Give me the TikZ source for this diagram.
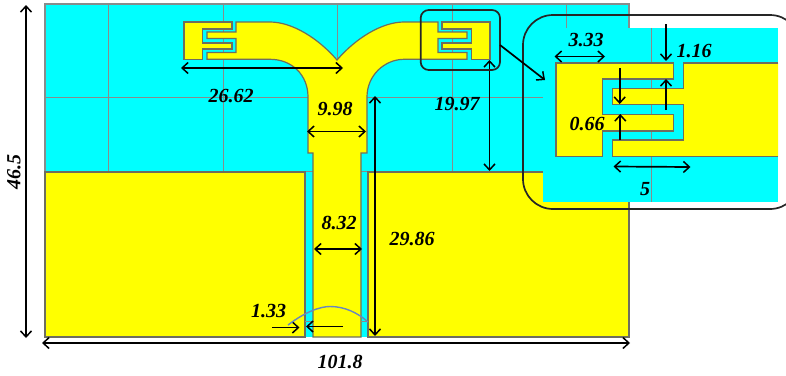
\documentclass[tikz,border=0pt]{standalone}
\usepackage{fontspec}
\setmainfont{Liberation Serif}
\usetikzlibrary{arrows.meta}
\definecolor{boardcyan}{RGB}{0,255,255}
\definecolor{metal}{RGB}{255,255,0}
\definecolor{edgegray}{RGB}{110,110,95}
\definecolor{gridgray}{RGB}{135,140,140}
\definecolor{arcblue}{RGB}{105,135,190}
\tikzset{
  cu/.style={fill=metal,draw=edgegray,line width=1.2pt,line join=miter},
  gridline/.style={draw=gridgray,line width=1pt},
  dimline/.style={draw=black,line width=1.7pt,arrows={Straight Barb[length=6pt,width=11pt,line width=1.5pt]-Straight Barb[length=6pt,width=11pt,line width=1.5pt]}},
  oneway/.style={draw=black,line width=1.7pt,-{Straight Barb[length=6pt,width=11pt,line width=1.5pt]}},
  frame/.style={draw=black!85,line width=1.7pt},
  lbl/.style={font=\bfseries\itshape\fontsize{20}{20}\selectfont,inner sep=0pt}
}
\begin{document}
\begin{tikzpicture}[x=1pt,y=-1pt]
\useasboundingbox (0,0) rectangle (786,375);
\clip (0,0) rectangle (786,375);
% board
\fill[boardcyan] (45,4) rectangle (629,172);
\foreach \gx in {108,223,337,452,566}{\draw[gridline] (\gx,4) -- (\gx,172);}
\draw[gridline] (45,97) -- (629,97);
\draw[draw=gridgray,line width=1.2pt] (45,4) rectangle (629,172);
% ground planes and slots
\fill[boardcyan] (305,172) rectangle (368,337);
\draw[cu] (45,172) -- (305,172) -- (305,337) -- (45,337) -- cycle;
\draw[cu] (368,172) -- (629,172) -- (629,337) -- (368,337) -- cycle;
% feed
\draw[cu] (236,22) -- (270,22) .. controls (292,22) and (318,38) .. (337,60)
  .. controls (356,38) and (382,22) .. (404,22) -- (438,22) -- (438,32) -- (467,32) -- (467,38.5) -- (438,38.5) -- (438,52.4) -- (467,52.4) -- (467,59.3)
  -- (404,59.3) .. controls (385,59.3) and (367,75) .. (367,97) -- (367,153) -- (361,153) -- (361,337) -- (313,337) -- (313,153) -- (308,153) -- (308,97)
  .. controls (308,75) and (292,59.3) .. (270,59.3) -- (207,59.3) -- (207,52.4) -- (236,52.4) -- (236,38.5) -- (207,38.5) -- (207,32) -- (236,32) -- cycle;
% resonator end blocks
\draw[cu] (184,22) -- (232,22) -- (232,29) -- (202.7,29) -- (202.7,43) -- (232,43) -- (232,49) -- (202.7,49) -- (202.7,59.3) -- (184,59.3) -- cycle;
\draw[cu] (490,22) -- (442,22) -- (442,29) -- (471.3,29) -- (471.3,43) -- (442,43) -- (442,49) -- (471.3,49) -- (471.3,59.3) -- (490,59.3) -- cycle;
% small grid ticks in slots
\draw[draw=gridgray,line width=1pt] (305,321) -- (313,321);
\draw[draw=gridgray,line width=1pt] (361,321) -- (368,321);
% main dimensions
\coordinate (wA) at (181,68); \coordinate (wB) at (343,68);
\draw[dimline] (wA) -- (wB);
\node[lbl] (l2662) at (231,96) {26.62};
\coordinate (hA) at (489.5,60); \coordinate (hB) at (489.5,171);
\draw[dimline] (hA) -- (hB);
\node[lbl] (l1997) at (457,104) {19.97};
\coordinate (sA) at (307,131.5); \coordinate (sB) at (366,131.5);
\draw[dimline] (sA) -- (sB);
\node[lbl] (l998) at (335,109) {9.98};
\coordinate (fA) at (375,96); \coordinate (fB) at (375,336);
\draw[dimline] (fA) -- (fB);
\node[lbl] (l2986) at (412,239) {29.86};
\coordinate (nA) at (314,249); \coordinate (nB) at (362,249);
\draw[dimline] (nA) -- (nB);
\node[lbl] (l832) at (339,223) {8.32};
\coordinate (gA) at (272,327.5); \coordinate (gB) at (299.5,327.5);
\draw[oneway] (gA) -- (gB);
\coordinate (gC) at (343,326.5); \coordinate (gD) at (306,326.5);
\draw[oneway] (gC) -- (gD);
\node[lbl] (l133) at (268.5,311) {1.33};
\coordinate (aA) at (288,325); \coordinate (aB) at (368,322);
\draw[draw=arcblue,line width=1.4pt] (aA) .. controls (305,312) and (320,306.5) .. (330,306.5) .. controls (345,306.5) and (358,313) .. (aB);
\coordinate (bA) at (42,343); \coordinate (bB) at (630,343);
\draw[dimline] (bA) -- (bB);
\node[lbl] (l1018) at (340,362) {101.8};
\coordinate (vA) at (26,5); \coordinate (vB) at (26,338);
\draw[dimline] (vA) -- (vB);
\node[lbl,rotate=90] (l465) at (14,172) {46.5};
% inset
\fill[boardcyan] (543,28) rectangle (778,202);
\draw[gridline] (651,28) -- (651,202);
\fill[metal] (684,63) rectangle (778,156.7);
\draw[cu] (556,63) -- (673.3,63) -- (673.3,79) -- (602.7,79) -- (602.7,114.3) -- (673.3,114.3) -- (673.3,131) -- (602.7,131) -- (602.7,156.7) -- (556,156.7) -- cycle;
\draw[cu] (778,63) -- (683.3,63) -- (683.3,88.3) -- (612.3,88.3) -- (612.3,104.3) -- (683.3,104.3) -- (683.3,140) -- (612.3,140) -- (612.3,156.7) -- (778,156.7);
% inset dimensions
\coordinate (iA) at (554.5,56.5); \coordinate (iB) at (605,56.5);
\draw[dimline] (iA) -- (iB);
\node[lbl] (l333) at (586,40) {3.33};
\coordinate (iC) at (666,24); \coordinate (iD) at (666,61);
\draw[oneway] (iC) -- (iD);
\coordinate (iE) at (666,110); \coordinate (iF) at (666,79);
\draw[oneway] (iE) -- (iF);
\node[lbl] (l116) at (694,51) {1.16};
\coordinate (iG) at (619.7,68); \coordinate (iH) at (619.7,104);
\draw[oneway] (iG) -- (iH);
\coordinate (iI) at (620.3,140); \coordinate (iJ) at (620.3,114);
\draw[oneway] (iI) -- (iJ);
\node[lbl] (l066) at (587,124) {0.66};
\coordinate (iK) at (613.5,166.5); \coordinate (iL) at (690.5,167);
\draw[dimline] (iK) -- (iL);
\node[lbl] (l5) at (645,189) {5};
% frames and pointer
\draw[frame,rounded corners=8pt] (420.7,10) rectangle (500,70);
\draw[frame,rounded corners=30pt] (523,15) rectangle (800,209);
\coordinate (pA) at (500,45); \coordinate (pB) at (545,80);
\draw[oneway] (pA) -- (pB);
\end{tikzpicture}
\end{document}
